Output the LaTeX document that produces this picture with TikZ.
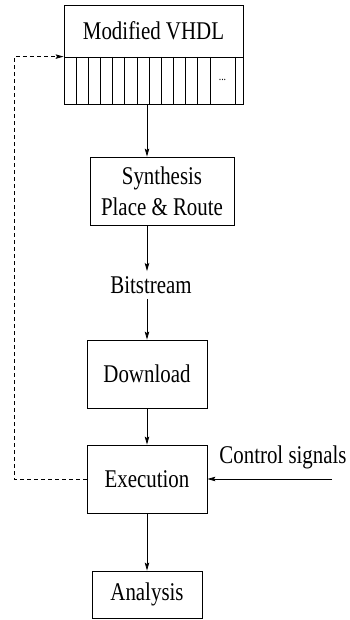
\documentclass[tikz,border=0pt]{standalone}
\usepackage{fontspec}
\setmainfont[FakeStretch=0.82]{Liberation Serif}
\usetikzlibrary{arrows.meta}
\begin{document}
\begin{tikzpicture}[x=1pt,y=-1pt,line width=0.8pt,
  font=\fontsize{25.5}{31}\selectfont,
  >={Stealth[length=8pt,width=4.5pt,inset=1.5pt]},
  blk/.style={draw, inner sep=0pt}]
\useasboundingbox (0,0) rectangle (349,620);

\node[blk, minimum width=179, minimum height=52] (vhdl) at (153.5,31) {Modified VHDL};
\node[blk, minimum width=179, minimum height=47] (cells) at (153.5,80.5) {};
\foreach \i in {1,...,12}
  \draw ({64+12.17*\i},57) -- ({64+12.17*\i},104);
\draw (235,57) -- (235,104);
\node[font=\fontsize{12}{14}\selectfont] (dots) at (222.5,80) {...};

\node[blk, minimum width=144, minimum height=68, align=center] (synth) at (162,191) {Synthesis\\Place \& Route};
\node[inner sep=5pt] (bits) at (151,285) {Bitstream};
\node[blk, minimum width=120, minimum height=68] (down) at (147,374) {Download};
\node[blk, minimum width=120, minimum height=68] (exec) at (147,479) {Execution};
\node[blk, minimum width=110, minimum height=47] (ana) at (147,594.5) {Analysis};
\node[anchor=base east, inner sep=0pt] (ctltext) at (347,463) {Control signals};
\coordinate (ctl) at (332,479);
\coordinate (fb) at (14,479);

\path[draw,->] (cells.south -| down) -- (synth.north -| down);
\path[draw,->] (synth.south -| down) -- (bits.north -| down);
\path[draw,->] (bits.south -| down) -- (down);
\path[draw,->] (down) -- (exec);
\path[draw,->] (exec) -- (ana);
\path[draw,->] (ctl) -- (exec);
\path[draw,dash pattern=on 4pt off 3pt,->] (exec) -- (fb) |- (cells.north west);
\end{tikzpicture}
\end{document}
